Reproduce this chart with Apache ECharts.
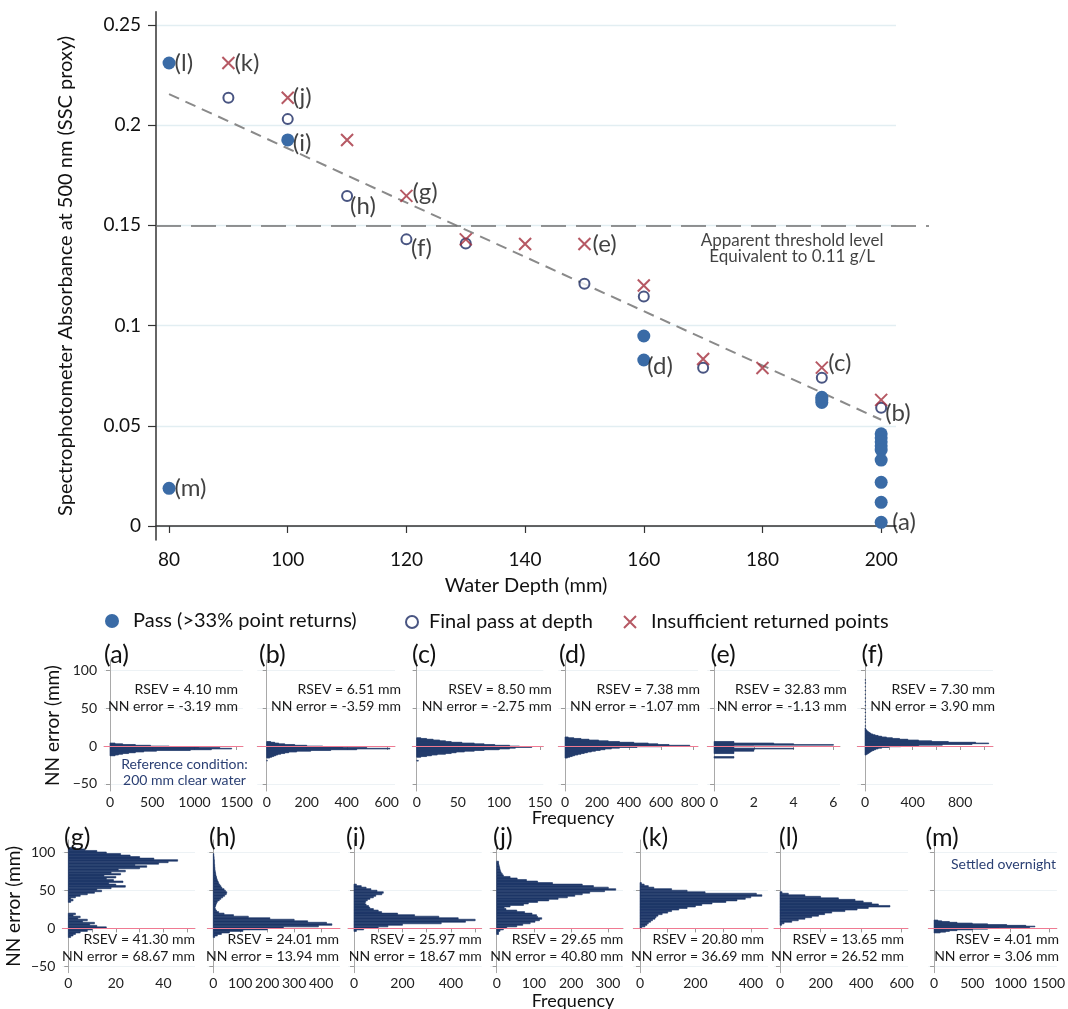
<!DOCTYPE html>
<html><head><meta charset="utf-8">
<script src="https://cdn.jsdelivr.net/npm/echarts@6/dist/echarts.min.js"></script>
<style>html,body{margin:0;padding:0;background:#fff}#c{width:1068px;height:1009px}</style>
</head><body><div id="c"></div>
<script>
// ---------------- main chart data ----------------
const depthTicks = [80, 100, 120, 140, 160, 180, 200];
const absTicks = [0, 0.05, 0.1, 0.15, 0.2, 0.25];
const passDepth = [80, 80, 100, 160, 160, 190, 190, 190, 200, 200, 200, 200, 200, 200, 200, 200, 200];
const passAbs = [0.231, 0.0188, 0.1926, 0.0948, 0.0828, 0.0642, 0.0628, 0.0616, 0.046, 0.044, 0.042, 0.040, 0.0379, 0.0329, 0.0218, 0.0118, 0.0018];
const finalDepth = [90, 100, 110, 120, 130, 150, 160, 170, 190, 200];
const finalAbs = [0.2137, 0.203, 0.1647, 0.143, 0.1409, 0.1208, 0.1145, 0.079, 0.074, 0.059];
const insuffDepth = [90, 100, 110, 120, 130, 140, 150, 160, 170, 180, 190, 200];
const insuffAbs = [0.231, 0.2137, 0.1926, 0.1647, 0.143, 0.1407, 0.1407, 0.12, 0.0833, 0.0788, 0.079, 0.0629];
const trendDepth = [80, 200];
const trendAbs = [0.2155, 0.053];
const thresholdAbs = 0.15;
const ptLabels = ['(a)', '(b)', '(c)', '(d)', '(e)', '(f)', '(g)', '(h)', '(i)', '(j)', '(k)', '(l)', '(m)'];
const ptLabelDepth = [200, 200, 190, 160, 150, 120, 120, 110, 100, 100, 90, 80, 80];
const ptLabelAbs = [0.0018, 0.059, 0.079, 0.0828, 0.1407, 0.143, 0.1647, 0.1647, 0.1926, 0.2137, 0.231, 0.231, 0.0188];
const seriesNames = ['Pass (>33% point returns)', 'Final pass at depth', 'Insufficient returned points'];
const thresholdNote = 'Apparent threshold level\nEquivalent to 0.11 g/L';
const thresholdNoteAt = [185, 0.1384];

// ---------------- histogram panels data ----------------
const panelNames = ['(a)', '(b)', '(c)', '(d)', '(e)', '(f)', '(g)', '(h)', '(i)', '(j)', '(k)', '(l)', '(m)'];
const rsevValues = ['4.10', '6.51', '8.50', '7.38', '32.83', '7.30', '41.30', '24.01', '25.97', '29.65', '20.80', '13.65', '4.01'];
const nnErrorValues = ['-3.19', '-3.59', '-2.75', '-1.07', '-1.13', '3.90', '68.67', '13.94', '18.67', '40.80', '36.69', '26.52', '3.06'];
const histStart = [-13, -20, -20, -16, -16, -12, -12, -12, -4, -8, 0, 4, -6];
const histBinWidth = [1, 1, 1, 1, 1, 1, 2, 2, 2, 2, 2, 2, 1];
const histA = [60, 100, 150, 220, 300, 400, 550, 950, 1200, 1440, 1300, 1050, 700, 480, 300, 150, 60];
const histB = [3, 0, 0, 0, 15, 25, 35, 45, 55, 70, 90, 110, 150, 220, 320, 450, 616, 500, 380, 280, 200, 140, 90, 60, 40, 20];
const histC = [2, 0, 0, 0, 0, 5, 12, 18, 25, 35, 42, 48, 58, 70, 82, 100, 113, 120, 140, 125, 113, 95, 82, 70, 55, 42, 35, 28, 20, 12, 5];
const histD = [15, 30, 45, 60, 80, 100, 120, 140, 165, 190, 220, 250, 290, 340, 450, 600, 780, 650, 580, 520, 430, 340, 270, 210, 150, 100, 55, 20];
const histE = [1, 1, 0, 0, 0, 0, 1, 1, 1, 2, 2, 2, 4, 1, 1, 2, 1, 6, 4, 3, 1, 1];
const histF = [10, 20, 30, 40, 50, 60, 75, 90, 110, 140, 200, 300, 450, 650, 900, 1040, 930, 700, 560, 450, 360, 290, 230, 180, 140, 110, 85, 65, 50, 40, 30, 22, 16, 10, 6, 3];
const histG = [1, 2, 3, 5, 8, 10, 16, 12, 9, 11, 6, 8, 4, 5, 2, 3, 0, 0, 0, 0, 0, 0, 0, 1, 2, 1, 3, 5, 8, 11, 14, 12, 18, 24, 20, 17, 23, 19, 16, 20, 15, 22, 18, 24, 21, 30, 33, 28, 38, 42, 46, 36, 30, 26, 22, 16, 12, 7, 3];
const histH = [5, 15, 30, 60, 110, 200, 260, 390, 440, 420, 350, 300, 210, 130, 75, 40, 20, 12, 8, 6, 8, 10, 12, 15, 22, 28, 35, 42, 48, 50, 45, 40, 32, 28, 24, 20, 18, 15, 13, 12, 10, 9, 8, 7, 6, 6, 5, 5, 4, 4, 4, 3, 3, 2, 2];
const histI = [10, 40, 100, 140, 200, 360, 460, 500, 430, 350, 250, 180, 114, 100, 80, 65, 60, 50, 45, 48, 55, 66, 80, 90, 115, 121, 95, 70, 50, 30, 10];
const histJ = [5, 5, 9, 18, 27, 54, 70, 90, 103, 115, 121, 110, 107, 95, 75, 54, 25, 20, 36, 72, 85, 110, 140, 165, 190, 210, 230, 250, 290, 320, 300, 260, 230, 150, 110, 80, 55, 36, 18, 15, 12, 10, 9, 8, 7, 6, 5, 5];
const histK = [6, 18, 25, 30, 38, 45, 54, 58, 65, 80, 100, 114, 140, 170, 200, 223, 260, 310, 350, 380, 400, 440, 420, 235, 170, 114, 50, 30, 15, 5];
const histL = [8, 20, 58, 90, 123, 156, 190, 220, 255, 320, 380, 435, 542, 485, 452, 410, 370, 288, 200, 123, 41, 10];
const histM = [80, 150, 200, 300, 500, 700, 850, 1250, 1320, 1200, 950, 700, 500, 300, 200, 100, 50];
const histCounts = [histA, histB, histC, histD, histE, histF, histG, histH, histI, histJ, histK, histL, histM];
// sparse single returns far above the surface in panel (f)
const fSparseErr = [26, 31, 35, 39, 44, 48, 53, 58, 63, 68, 73, 78, 83, 87];
const fSparseCount = [5, 4, 5, 4, 5, 4, 5, 4, 5, 4, 5, 4, 5, 4];
const errTicks = [-50, 0, 50, 100];
const freqTicks = [
  [0, 500, 1000, 1500], [0, 200, 400, 600], [0, 50, 100, 150], [0, 200, 400, 600, 800], [0, 2, 4, 6], [0, 200, 400, 600, 800, 1000],
  [0, 10, 20, 30, 40, 50], [0, 100, 200, 300, 400], [0, 100, 200, 300, 400, 500], [0, 100, 200, 300], [0, 100, 200, 300, 400], [0, 200, 400, 600], [0, 500, 1000, 1500]
];
const freqLabels = [
  [0, 500, 1000, 1500], [0, 200, 400, 600], [0, 50, 100, 150], [0, 200, 400, 600, 800], [0, 2, 4, 6], [0, 400, 800],
  [0, 20, 40], [0, 100, 200, 300, 400], [0, 200, 400], [0, 100, 200, 300], [0, 200, 400], [0, 200, 400, 600], [0, 500, 1000, 1500]
];

// ---------------- layout / style ----------------
const FONT = 'Lato';
const HIST_COLOR = '#1f3868';
const NOTE_COLOR = '#2a3f73';
const rows = [
  { top: 660, bottom: 791, ymin: -59.6, ymax: 113.9, labelY: 655, t1: 689, t2: 706, nameGap: 42, freqY: 818 },
  { top: 840, bottom: 972.7, ymin: -58, ymax: 115.7, labelY: 838, t1: 939, t2: 956.7, nameGap: 39, freqY: 1001 }
];
const panels = [
  { row: 0, l: 104, r: 243, min: -71, max: 1574, lx: 104, tr: 238 },
  { row: 0, l: 257.3, r: 395, min: -47, max: 641, lx: 259, tr: 401 },
  { row: 0, l: 412.3, r: 543.3, min: -5.35, max: 154, lx: 412, tr: 551.7 },
  { row: 0, l: 558.3, r: 698, min: -42, max: 831, lx: 559, tr: 700 },
  { row: 0, l: 707.3, r: 840, min: -0.34, max: 6.33, lx: 710.5, tr: 846.7 },
  { row: 0, l: 857.3, r: 993, min: -65, max: 1076, lx: 861.5, tr: 995 },
  { row: 1, l: 62.3, r: 195, min: -2.53, max: 53.3, lx: 64, tr: 195 },
  { row: 1, l: 207.3, r: 340, min: -22.2, max: 470, lx: 209, tr: 339 },
  { row: 1, l: 348, r: 481.7, min: -24.7, max: 527, lx: 346, tr: 481.7 },
  { row: 1, l: 490, r: 623, min: -18, max: 339.5, lx: 493, tr: 623.3 },
  { row: 1, l: 633.3, r: 768, min: -24.2, max: 462, lx: 642, tr: 764 },
  { row: 1, l: 774, r: 908, min: -29.6, max: 631, lx: 779, tr: 904 },
  { row: 1, l: 928.3, r: 1061.7, min: -75.7, max: 1606, lx: 925.5, tr: 1059 }
];
const labelOffsets = [[11, 0], [4, 6], [6.5, -4], [3.5, 6], [8, 0], [4.5, 9], [6, -4], [3, 10], [5, 3], [5, 0], [6, 0], [5.5, 0], [5.5, 0]];

// ---------------- build option ----------------
const zip = (xs, ys) => xs.map((x, i) => [x, ys[i]]);
const plain = v => String(v);
const grids = [
  { left: 156, width: 740, top: 11.7, height: 528.3 },
  { left: 156, width: 773, top: 11.7, height: 528.3 }
];
const xAxes = [
  {
    gridIndex: 0, type: 'value', min: 77.8, max: 202.5,
    name: 'Water Depth (mm)', nameLocation: 'middle', nameGap: 36,
    nameTextStyle: { fontSize: 20, color: '#111', fontFamily: FONT },
    axisLine: { show: true, lineStyle: { color: '#333', width: 1.5 } },
    axisTick: { show: true, length: 7, lineStyle: { color: '#333', width: 1.2 }, customValues: depthTicks },
    axisLabel: { customValues: depthTicks, fontSize: 19, color: '#111', margin: 10, fontFamily: FONT, formatter: plain },
    splitLine: { show: false }
  },
  { gridIndex: 1, type: 'value', min: 77.8, max: 208.1, show: false }
];
const yAxes = [
  {
    gridIndex: 0, type: 'value', min: -0.007, max: 0.2566,
    name: 'Spectrophotometer Absorbance at 500 nm (SSC proxy)', nameLocation: 'middle', nameGap: 80, nameRotate: 90,
    nameTextStyle: { fontSize: 20, color: '#111', fontFamily: FONT },
    axisLine: { show: true, lineStyle: { color: '#333', width: 1.5 } },
    axisTick: { show: true, length: 8, lineStyle: { color: '#333', width: 1.2 }, customValues: absTicks },
    axisLabel: { customValues: absTicks, fontSize: 19, color: '#111', margin: 15, fontFamily: FONT, formatter: plain },
    splitLine: { show: true, lineStyle: { color: '#e2eef2', width: 1.3 } }
  },
  { gridIndex: 1, type: 'value', min: -0.007, max: 0.2566, show: false }
];
const series = [
  {
    type: 'line', xAxisIndex: 1, yAxisIndex: 1, data: [], silent: true,
    markLine: {
      silent: true, symbol: 'none', animation: false, label: { show: false },
      lineStyle: { type: [25, 10], color: '#707070', width: 1.6 },
      data: [{ yAxis: thresholdAbs }]
    }
  },
  {
    type: 'line', xAxisIndex: 0, yAxisIndex: 0, data: zip(trendDepth, trendAbs), symbol: 'none', silent: true,
    lineStyle: { type: [11, 7], color: '#8a8a8a', width: 2 }, z: 2
  },
  {
    name: seriesNames[1], type: 'scatter', xAxisIndex: 0, yAxisIndex: 0, data: zip(finalDepth, finalAbs),
    symbol: 'circle', symbolSize: 10, itemStyle: { color: '#ffffff', borderColor: '#1c2b63', borderWidth: 2 }, z: 3
  },
  {
    name: seriesNames[0], type: 'scatter', xAxisIndex: 0, yAxisIndex: 0, data: zip(passDepth, passAbs),
    symbol: 'circle', symbolSize: 13, itemStyle: { color: '#3a6ba6', opacity: 1 }, z: 4
  },
  {
    name: seriesNames[2], type: 'scatter', xAxisIndex: 0, yAxisIndex: 0, data: zip(insuffDepth, insuffAbs),
    symbol: 'path://M0,0L10,10M10,0L0,10', symbolSize: 12,
    itemStyle: { color: 'transparent', borderColor: '#a4303d', borderWidth: 2 }, z: 5
  },
  {
    type: 'scatter', xAxisIndex: 0, yAxisIndex: 0, symbolSize: 0, silent: true, z: 6,
    data: ptLabels.map((t, i) => ({
      value: [ptLabelDepth[i], ptLabelAbs[i]], name: t,
      label: { offset: labelOffsets[i] }
    })),
    label: {
      show: true, position: 'right', distance: 0, formatter: p => p.name,
      fontSize: 24, color: '#111', fontFamily: FONT, align: 'left', verticalAlign: 'middle'
    }
  },
  {
    type: 'scatter', xAxisIndex: 0, yAxisIndex: 0, symbolSize: 0, silent: true, z: 6,
    data: [thresholdNoteAt],
    label: {
      show: true, position: 'inside', formatter: thresholdNote, fontSize: 17, lineHeight: 16,
      color: '#111', fontFamily: FONT, align: 'center', verticalAlign: 'middle'
    }
  }
];

function histRender(params, api) {
  const lo = api.value(0), hi = api.value(1), n = api.value(2);
  if (!n) return null;
  const a = api.coord([0, hi]);
  const b = api.coord([n, lo]);
  return {
    type: 'rect',
    shape: { x: a[0], y: a[1], width: b[0] - a[0], height: b[1] - a[1] },
    style: { fill: HIST_COLOR, stroke: HIST_COLOR, lineWidth: 0.6 }
  };
}

const graphics = [];
panels.forEach((p, i) => {
  const row = rows[p.row];
  const gi = grids.length;
  grids.push({ left: p.l, width: p.r - p.l, top: row.top, height: row.bottom - row.top });
  const showY = (i === 0 || i === 6);
  xAxes.push({
    gridIndex: gi, type: 'value', min: p.min, max: p.max,
    axisLine: { show: true, lineStyle: { color: '#a9a9a9', width: 1 } },
    axisTick: { show: true, length: 4, lineStyle: { color: '#9a9a9a' }, customValues: freqTicks[i] },
    axisLabel: { customValues: freqLabels[i], fontSize: 14, color: '#222', margin: 4, fontFamily: FONT, formatter: plain },
    splitLine: { show: false }
  });
  yAxes.push({
    gridIndex: gi, type: 'value', min: row.ymin, max: row.ymax,
    name: showY ? 'NN error (mm)' : '', nameLocation: 'middle', nameGap: row.nameGap, nameRotate: 90,
    nameTextStyle: { fontSize: 19, color: '#111', fontFamily: FONT },
    axisLine: { show: true, lineStyle: { color: '#a9a9a9', width: 1 } },
    axisTick: { show: true, length: 4, lineStyle: { color: '#9a9a9a' }, customValues: errTicks },
    axisLabel: {
      show: showY, customValues: errTicks, fontSize: 14, color: '#222', margin: 7, fontFamily: FONT,
      formatter: v => (v < 0 ? '\u2212' + Math.abs(v) : String(v))
    },
    splitLine: { show: true, lineStyle: { color: '#edf2f5', width: 1 } }
  });
  const w = histBinWidth[i];
  const data = histCounts[i].map((n, k) => [histStart[i] + k * w, histStart[i] + (k + 1) * w, n]);
  if (i === 5) fSparseErr.forEach((e, k) => data.push([e, e + 1, fSparseCount[k]]));
  series.push({
    type: 'custom', xAxisIndex: gi, yAxisIndex: gi, silent: true,
    renderItem: histRender, data: data, encode: { x: 2, y: [0, 1] }, z: 2,
    markLine: {
      silent: true, symbol: 'none', animation: false, label: { show: false }, z: 5,
      lineStyle: { type: 'solid', color: '#f07a92', width: 1.2 },
      data: [{ yAxis: 0 }]
    }
  });
  graphics.push({ type: 'text', x: p.lx, y: row.labelY, z: 10,
    style: { text: panelNames[i], fontSize: 25, fontFamily: FONT, fill: '#111', align: 'left', verticalAlign: 'middle' } });
  graphics.push({ type: 'text', x: p.tr, y: row.t1, z: 10,
    style: { text: 'RSEV = ' + rsevValues[i] + ' mm', fontSize: 14, fontFamily: FONT, fill: '#1a1a1a', align: 'right', verticalAlign: 'middle' } });
  graphics.push({ type: 'text', x: p.tr, y: row.t2, z: 10,
    style: { text: 'NN error = ' + nnErrorValues[i] + ' mm', fontSize: 14, fontFamily: FONT, fill: '#1a1a1a', align: 'right', verticalAlign: 'middle' } });
});
graphics.push({ type: 'text', x: 184.5, y: 772, z: 10,
  style: { text: 'Reference condition:\n200 mm clear water', fontSize: 14, lineHeight: 16, fontFamily: FONT, fill: NOTE_COLOR, align: 'center', verticalAlign: 'middle' } });
graphics.push({ type: 'text', x: 1056, y: 864, z: 10,
  style: { text: 'Settled overnight', fontSize: 14, fontFamily: FONT, fill: NOTE_COLOR, align: 'right', verticalAlign: 'middle' } });
rows.forEach(r => graphics.push({ type: 'text', x: 573, y: r.freqY, z: 10,
  style: { text: 'Frequency', fontSize: 18, fontFamily: FONT, fill: '#111', align: 'center', verticalAlign: 'middle' } }));

const legendBase = {
  orient: 'horizontal', itemWidth: 14, itemHeight: 14, top: 605, selectedMode: false,
  textStyle: { fontSize: 20, color: '#111', fontFamily: FONT, lineHeight: 22 }
};
const legends = [
  Object.assign({}, legendBase, { left: 100, data: [{ name: seriesNames[0], icon: 'circle', itemStyle: { color: '#3a6ba6', borderWidth: 0 } }],
    textStyle: Object.assign({}, legendBase.textStyle, { padding: [0, 0, 0, 9] }) }),
  Object.assign({}, legendBase, { left: 400, itemWidth: 12, itemHeight: 12, top: 606, data: [{ name: seriesNames[1], icon: 'circle', itemStyle: { color: '#fff', borderColor: '#1c2b63', borderWidth: 2 } }],
    textStyle: Object.assign({}, legendBase.textStyle, { padding: [0, 0, 0, 6] }) }),
  Object.assign({}, legendBase, { left: 618, itemWidth: 12, itemHeight: 12, top: 606, data: [{ name: seriesNames[2], icon: 'path://M0,0L10,10M10,0L0,10', itemStyle: { color: 'transparent', borderColor: '#a4303d', borderWidth: 2 } }],
    textStyle: Object.assign({}, legendBase.textStyle, { padding: [0, 0, 0, 10] }) })
];

const chart = echarts.init(document.getElementById('c'), null, { renderer: 'canvas' });
chart.setOption({
  animation: false,
  backgroundColor: '#fff',
  textStyle: { fontFamily: FONT },
  grid: grids,
  xAxis: xAxes,
  yAxis: yAxes,
  legend: legends,
  series: series,
  graphic: graphics
});
</script>
</body></html>
